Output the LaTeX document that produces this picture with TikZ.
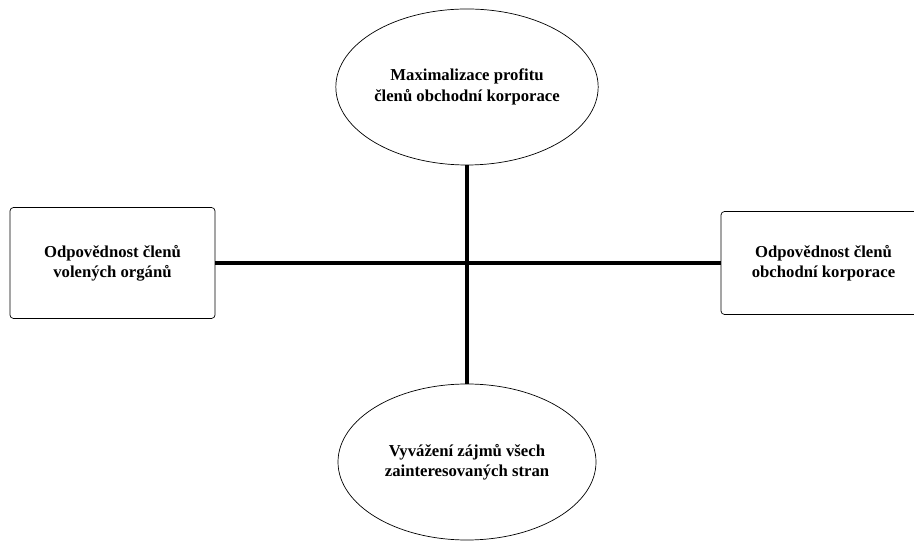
\documentclass[tikz,border=0pt]{standalone}
\usepackage{fontspec}
\setmainfont{Liberation Serif}
\usetikzlibrary{shapes.geometric}

\begin{document}
\begin{tikzpicture}[
  goal/.style={ellipse,draw,thin,font=\bfseries\fontsize{9.5}{11.5}\selectfont,
               minimum width=5.16cm,minimum height=3.12cm,inner sep=0pt,align=center},
  party/.style={rectangle,draw,thin,rounded corners=2pt,font=\bfseries\fontsize{9.5}{11.5}\selectfont,
                minimum width=4.1cm,inner sep=0pt,align=center},
  axis/.style={line width=2.8pt,black}
]
\useasboundingbox (0,0) rectangle (18.28,10.86);
\node[goal]  (profit)  at (9.34,9.12) {Maximalizace profitu\\členů obchodní korporace};
\node[goal]  (balance) at (9.34,1.62) {Vyvážení zájmů všech\\zainteresovaných stran};
\node[party,minimum height=2.22cm] (organs)  at (2.25,5.6)  {Odpovědnost členů\\volených orgánů};
\node[party,minimum height=2.06cm] (members) at (16.47,5.6) {Odpovědnost členů\\obchodní korporace};
\draw[axis] (profit)--(balance);
\draw[axis] (organs)--(members);
\end{tikzpicture}
\end{document}
